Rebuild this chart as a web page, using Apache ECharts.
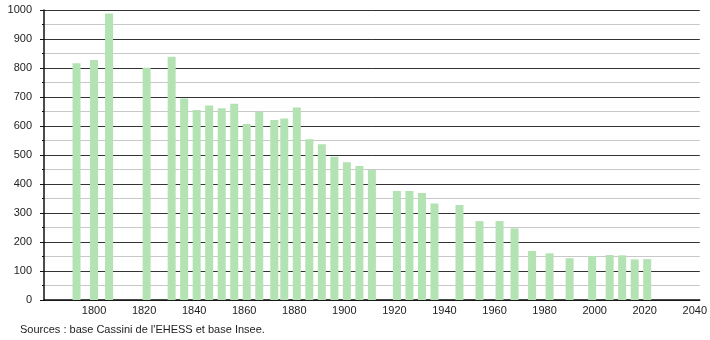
<!DOCTYPE html>
<html>
<head>
<meta charset="utf-8">
<script src="https://cdn.jsdelivr.net/npm/echarts@6/dist/echarts.min.js"></script>
<style>
html,body{margin:0;padding:0;background:#fff;}
#c{width:710px;height:340px;}
</style>
</head>
<body>
<div id="c"></div>
<script>
const years = [1793,1800,1806,1821,1831,1836,1841,1846,1851,1856,1861,1866,1872,1876,1881,1886,1891,1896,1901,1906,1911,1921,1926,1931,1936,1946,1954,1962,1968,1975,1982,1990,1999,2006,2011,2016,2021];
const population = [816,828,988,801,839,695,655,671,661,677,607,649,621,626,664,554,537,494,475,462,448,376,376,369,333,328,272,272,247,169,161,144,152,155,154,140,141];
const yTicks = [0,100,200,300,400,500,600,700,800,900,1000];
const xTicks = [1800,1820,1840,1860,1880,1900,1920,1940,1960,1980,2000,2020,2040];
const sourceText = "Sources : base Cassini de l'EHESS et base Insee.";

const chart = echarts.init(document.getElementById('c'), null, {renderer:'canvas'});
const font = 'Liberation Sans, Arial, sans-serif';
chart.setOption({
  animation:false,
  backgroundColor:'#fff',
  grid:{left:44,right:9,top:10,bottom:40,containLabel:false},
  xAxis:{
    type:'value',min:1780,max:2042,interval:20,
    axisLine:{show:true,onZero:false,lineStyle:{color:'#111',width:1.5}},
    axisTick:{show:false},
    splitLine:{show:false},
    axisLabel:{
      color:'#222',fontSize:11,fontFamily:font,margin:5,
      formatter:function(v){return xTicks.indexOf(v)>=0?String(v):'';}
    }
  },
  yAxis:{
    type:'value',min:yTicks[0],max:yTicks[yTicks.length-1],interval:100,
    axisLine:{show:true,lineStyle:{color:'#111',width:1.5}},
    axisTick:{show:true,length:4,lineStyle:{color:'#111'}},
    minorTick:{show:true,splitNumber:2,length:2,lineStyle:{color:'#111'}},
    splitLine:{show:true,lineStyle:{color:'#333',width:1}},
    minorSplitLine:{show:true,lineStyle:{color:'#c8c8c8',width:1}},
    axisLabel:{color:'#222',fontSize:11,fontFamily:font,margin:12,
      formatter:function(v){return String(v);}}
  },
  series:[{
    type:'bar',
    data:years.map((y,i)=>[y,population[i]]),
    barWidth:8,
    itemStyle:{color:'#b3e2b3'},
    z:3
  }],
  graphic:[{
    type:'text',left:20,top:324,
    style:{text:sourceText,fill:'#222',font:'11px '+font}
  }]
});
</script>
</body>
</html>
